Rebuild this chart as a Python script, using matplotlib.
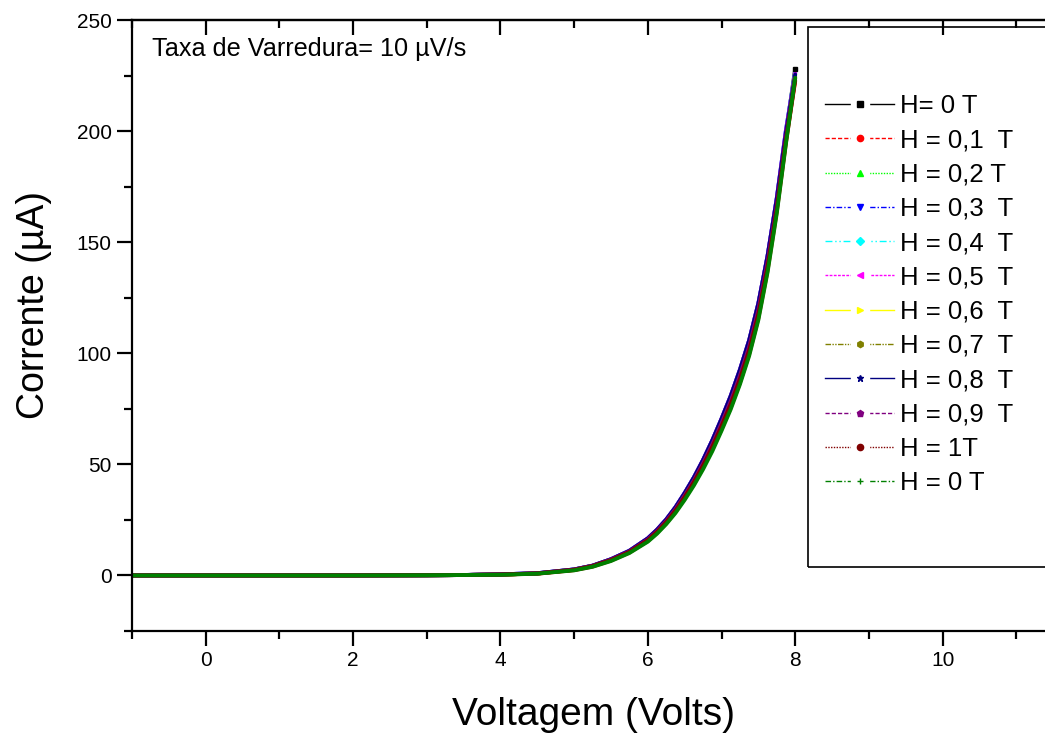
import numpy as np
import matplotlib
matplotlib.use("Agg")
import matplotlib.pyplot as plt
from matplotlib.lines import Line2D
from matplotlib.patches import Rectangle
from matplotlib.ticker import MultipleLocator
from matplotlib.legend_handler import HandlerTuple

plt.rcParams['font.family'] = ['Liberation Sans', 'DejaVu Sans']

# voltage sweep points (V)
voltage = [-1, 0, 1, 2, 3, 3.5, 4, 4.5, 5, 5.25, 5.5, 5.75, 6, 6.125, 6.25, 6.375, 6.5,
           6.625, 6.75, 6.875, 7, 7.125, 7.25, 7.375, 7.5, 7.625, 7.75, 7.875, 8]

# current (uA) for each applied field
i_h00 = [0, 0, 0, 0, 0.1, 0.2, 0.4, 0.9, 2.6, 4.3, 7.1, 10.8, 16.2, 20.0, 24.5, 29.8, 36.0,
         42.8, 50.5, 59.0, 68.5, 78.5, 90.0, 103.0, 119.5, 141.0, 167.5, 199.0, 228.0]
i_h01 = [0, 0, 0, 0, 0.1, 0.2, 0.4, 0.8, 2.4, 4.0, 6.7, 10.3, 15.5, 19.2, 23.5, 28.6, 34.6,
         41.1, 48.5, 56.7, 65.9, 75.6, 86.8, 99.6, 115.8, 137.3, 163.8, 195.0, 222.5]
i_h02 = [0, 0, 0, 0, 0.1, 0.2, 0.4, 0.9, 2.6, 4.3, 7.1, 10.8, 16.2, 20.0, 24.5, 29.8, 36.0,
         42.8, 50.5, 59.0, 68.5, 78.5, 90.0, 103.0, 119.5, 141.0, 167.0, 198.0, 225.5]
i_h03 = [0, 0, 0, 0, 0.1, 0.2, 0.5, 1.0, 2.7, 4.4, 7.3, 11.1, 16.7, 20.6, 25.2, 30.7, 37.1,
         44.1, 52.0, 60.8, 70.5, 80.8, 92.6, 105.8, 122.4, 143.8, 169.8, 200.5, 226.0]
i_h04 = [0, 0, 0, 0, 0.1, 0.2, 0.5, 1.0, 2.7, 4.4, 7.3, 11.1, 16.6, 20.5, 25.1, 30.6, 37.0,
         44.0, 51.8, 60.6, 70.3, 80.6, 92.4, 105.6, 122.2, 143.6, 169.6, 200.5, 226.5]
i_h05 = [0, 0, 0, 0, 0.1, 0.2, 0.5, 1.0, 2.7, 4.4, 7.3, 11.1, 16.7, 20.6, 25.2, 30.7, 37.1,
         44.1, 52.0, 60.8, 70.5, 80.8, 92.6, 105.8, 122.4, 143.8, 169.8, 200.5, 226.0]
i_h06 = [0, 0, 0, 0, 0.1, 0.2, 0.4, 0.9, 2.6, 4.3, 7.1, 10.8, 16.2, 20.0, 24.5, 29.8, 36.0,
         42.8, 50.5, 59.0, 68.5, 78.5, 90.0, 103.0, 119.5, 141.0, 167.0, 197.5, 225.0]
i_h07 = [0, 0, 0, 0, 0.1, 0.2, 0.4, 0.9, 2.6, 4.3, 7.1, 10.8, 16.2, 20.0, 24.5, 29.8, 36.0,
         42.8, 50.5, 59.0, 68.5, 78.5, 90.0, 103.0, 119.5, 141.0, 166.8, 197.3, 224.5]
i_h08 = [0, 0, 0, 0, 0.1, 0.2, 0.5, 1.0, 2.7, 4.4, 7.3, 11.1, 16.7, 20.6, 25.2, 30.7, 37.1,
         44.1, 52.0, 60.8, 70.5, 80.8, 92.6, 105.8, 122.4, 143.8, 169.5, 199.5, 225.5]
i_h09 = [0, 0, 0, 0, 0.1, 0.2, 0.4, 0.9, 2.6, 4.3, 7.1, 10.8, 16.2, 20.0, 24.5, 29.8, 36.0,
         42.8, 50.5, 59.0, 68.5, 78.5, 90.0, 103.0, 119.5, 141.0, 166.5, 197.0, 224.0]
i_h10 = [0, 0, 0, 0, 0.1, 0.2, 0.4, 0.9, 2.5, 4.2, 6.9, 10.6, 15.9, 19.6, 24.0, 29.2, 35.3,
         42.0, 49.5, 57.9, 67.2, 77.1, 88.4, 101.3, 117.6, 139.1, 165.0, 196.0, 223.0]
i_h00b = [0, 0, 0, 0, 0.1, 0.2, 0.3, 0.8, 2.3, 3.9, 6.5, 10.1, 15.2, 18.8, 23.1, 28.1, 34.0,
          40.5, 47.8, 55.9, 65.1, 74.8, 86.0, 98.8, 115.0, 136.5, 163.0, 194.5, 224.0]

labels = ['H= 0 T', 'H = 0,1  T', 'H = 0,2 T', 'H = 0,3  T', 'H = 0,4  T', 'H = 0,5  T',
          'H = 0,6  T', 'H = 0,7  T', 'H = 0,8  T', 'H = 0,9  T', 'H = 1T', 'H = 0 T']
colors = ['#000000', '#ff0000', '#00ff00', '#0000ff', '#00ffff', '#ff00ff',
          '#ffff00', '#808000', '#000080', '#800080', '#800000', '#008000']
markers = ['s', 'o', '^', 'v', 'D', '<', '>', 'h', '*', 'p', 'o', '+']
styles = ['-', (0, (3, 1.5)), (0, (1, 1)), (0, (4, 1.5, 1, 1.5)), (0, (5, 2, 1, 2, 1, 2)),
          (0, (2, 1)), '-', (0, (4, 1, 1, 1, 1, 1)), '-', (0, (3, 1.5)), (0, (1, 1)),
          (0, (4, 1.5, 1, 1.5))]
currents = [i_h00, i_h01, i_h02, i_h03, i_h04, i_h05, i_h06, i_h07, i_h08, i_h09, i_h10, i_h00b]

fig = plt.figure(figsize=(10.45, 7.35), dpi=100)
ax = fig.add_axes([132 / 1045, 1 - 631 / 735, 1 - 132 / 1045, (631 - 20) / 735])

for cur, c in zip(currents, colors):
    ax.plot(voltage, cur, color=c, lw=2.8, solid_capstyle='round', solid_joinstyle='round')
# end point marker of the first sweep
ax.plot(voltage[-1], i_h00[-1], 's', color='black', ms=3.5)

ax.set_xlim(-1, 11.39)
ax.set_ylim(-25, 250)

ax.xaxis.set_major_locator(MultipleLocator(2))
ax.xaxis.set_minor_locator(MultipleLocator(1))
ax.yaxis.set_major_locator(MultipleLocator(50))
ax.yaxis.set_minor_locator(MultipleLocator(25))

ax.spines['right'].set_visible(False)
for s in ['left', 'bottom', 'top']:
    ax.spines[s].set_linewidth(1.6)

ax.tick_params(which='both', direction='out', width=1.6, labelsize=15)
ax.tick_params(which='major', length=11)
ax.tick_params(which='minor', length=6)

# inward ticks along the top edge
top = ax.secondary_xaxis('top')
top.xaxis.set_major_locator(MultipleLocator(2))
top.xaxis.set_minor_locator(MultipleLocator(1))
top.tick_params(which='both', direction='in', width=1.6, labeltop=False)
top.tick_params(which='major', length=11)
top.tick_params(which='minor', length=6)
top.spines['top'].set_linewidth(1.6)

ax.set_xlabel('Voltagem (Volts)', fontsize=28)
ax.set_ylabel('Corrente (µA)', fontsize=27)
ax.xaxis.set_label_coords(0.505, -0.108)
ax.yaxis.set_label_coords(-0.088, 0.534)

ax.text(0.022, 0.972, 'Taxa de Varredura= 10 µV/s', transform=ax.transAxes,
        fontsize=18.2, va='top', ha='left')

# legend handles: line with a gap around the symbol
handles = []
for c, st, m in zip(colors, styles, markers):
    line = Line2D([0], [0], color=c, ls=st, lw=1)
    gap = Line2D([0], [0], ls='none', marker='s', ms=13, mfc='white', mec='white')
    sym = Line2D([0], [0], ls='none', marker=m, ms=4.5, mfc=c, mec=c, mew=1)
    handles.append((line, gap, sym))
fig.legend(handles, labels, loc='upper left', bbox_to_anchor=(825 / 1045, 1 - 94 / 735),
           frameon=False, fontsize=18.5, handlelength=2.7, handletextpad=0.2,
           labelspacing=0.40, borderpad=0, borderaxespad=0,
           handler_map={tuple: HandlerTuple(ndivide=1, pad=0)})
fig.add_artist(Rectangle((808 / 1045, 1 - 567 / 735), 0.3, (567 - 27) / 735,
                         transform=fig.transFigure, fill=False, lw=1.2, ec='black'))

fig.savefig('out.png', dpi=100)
